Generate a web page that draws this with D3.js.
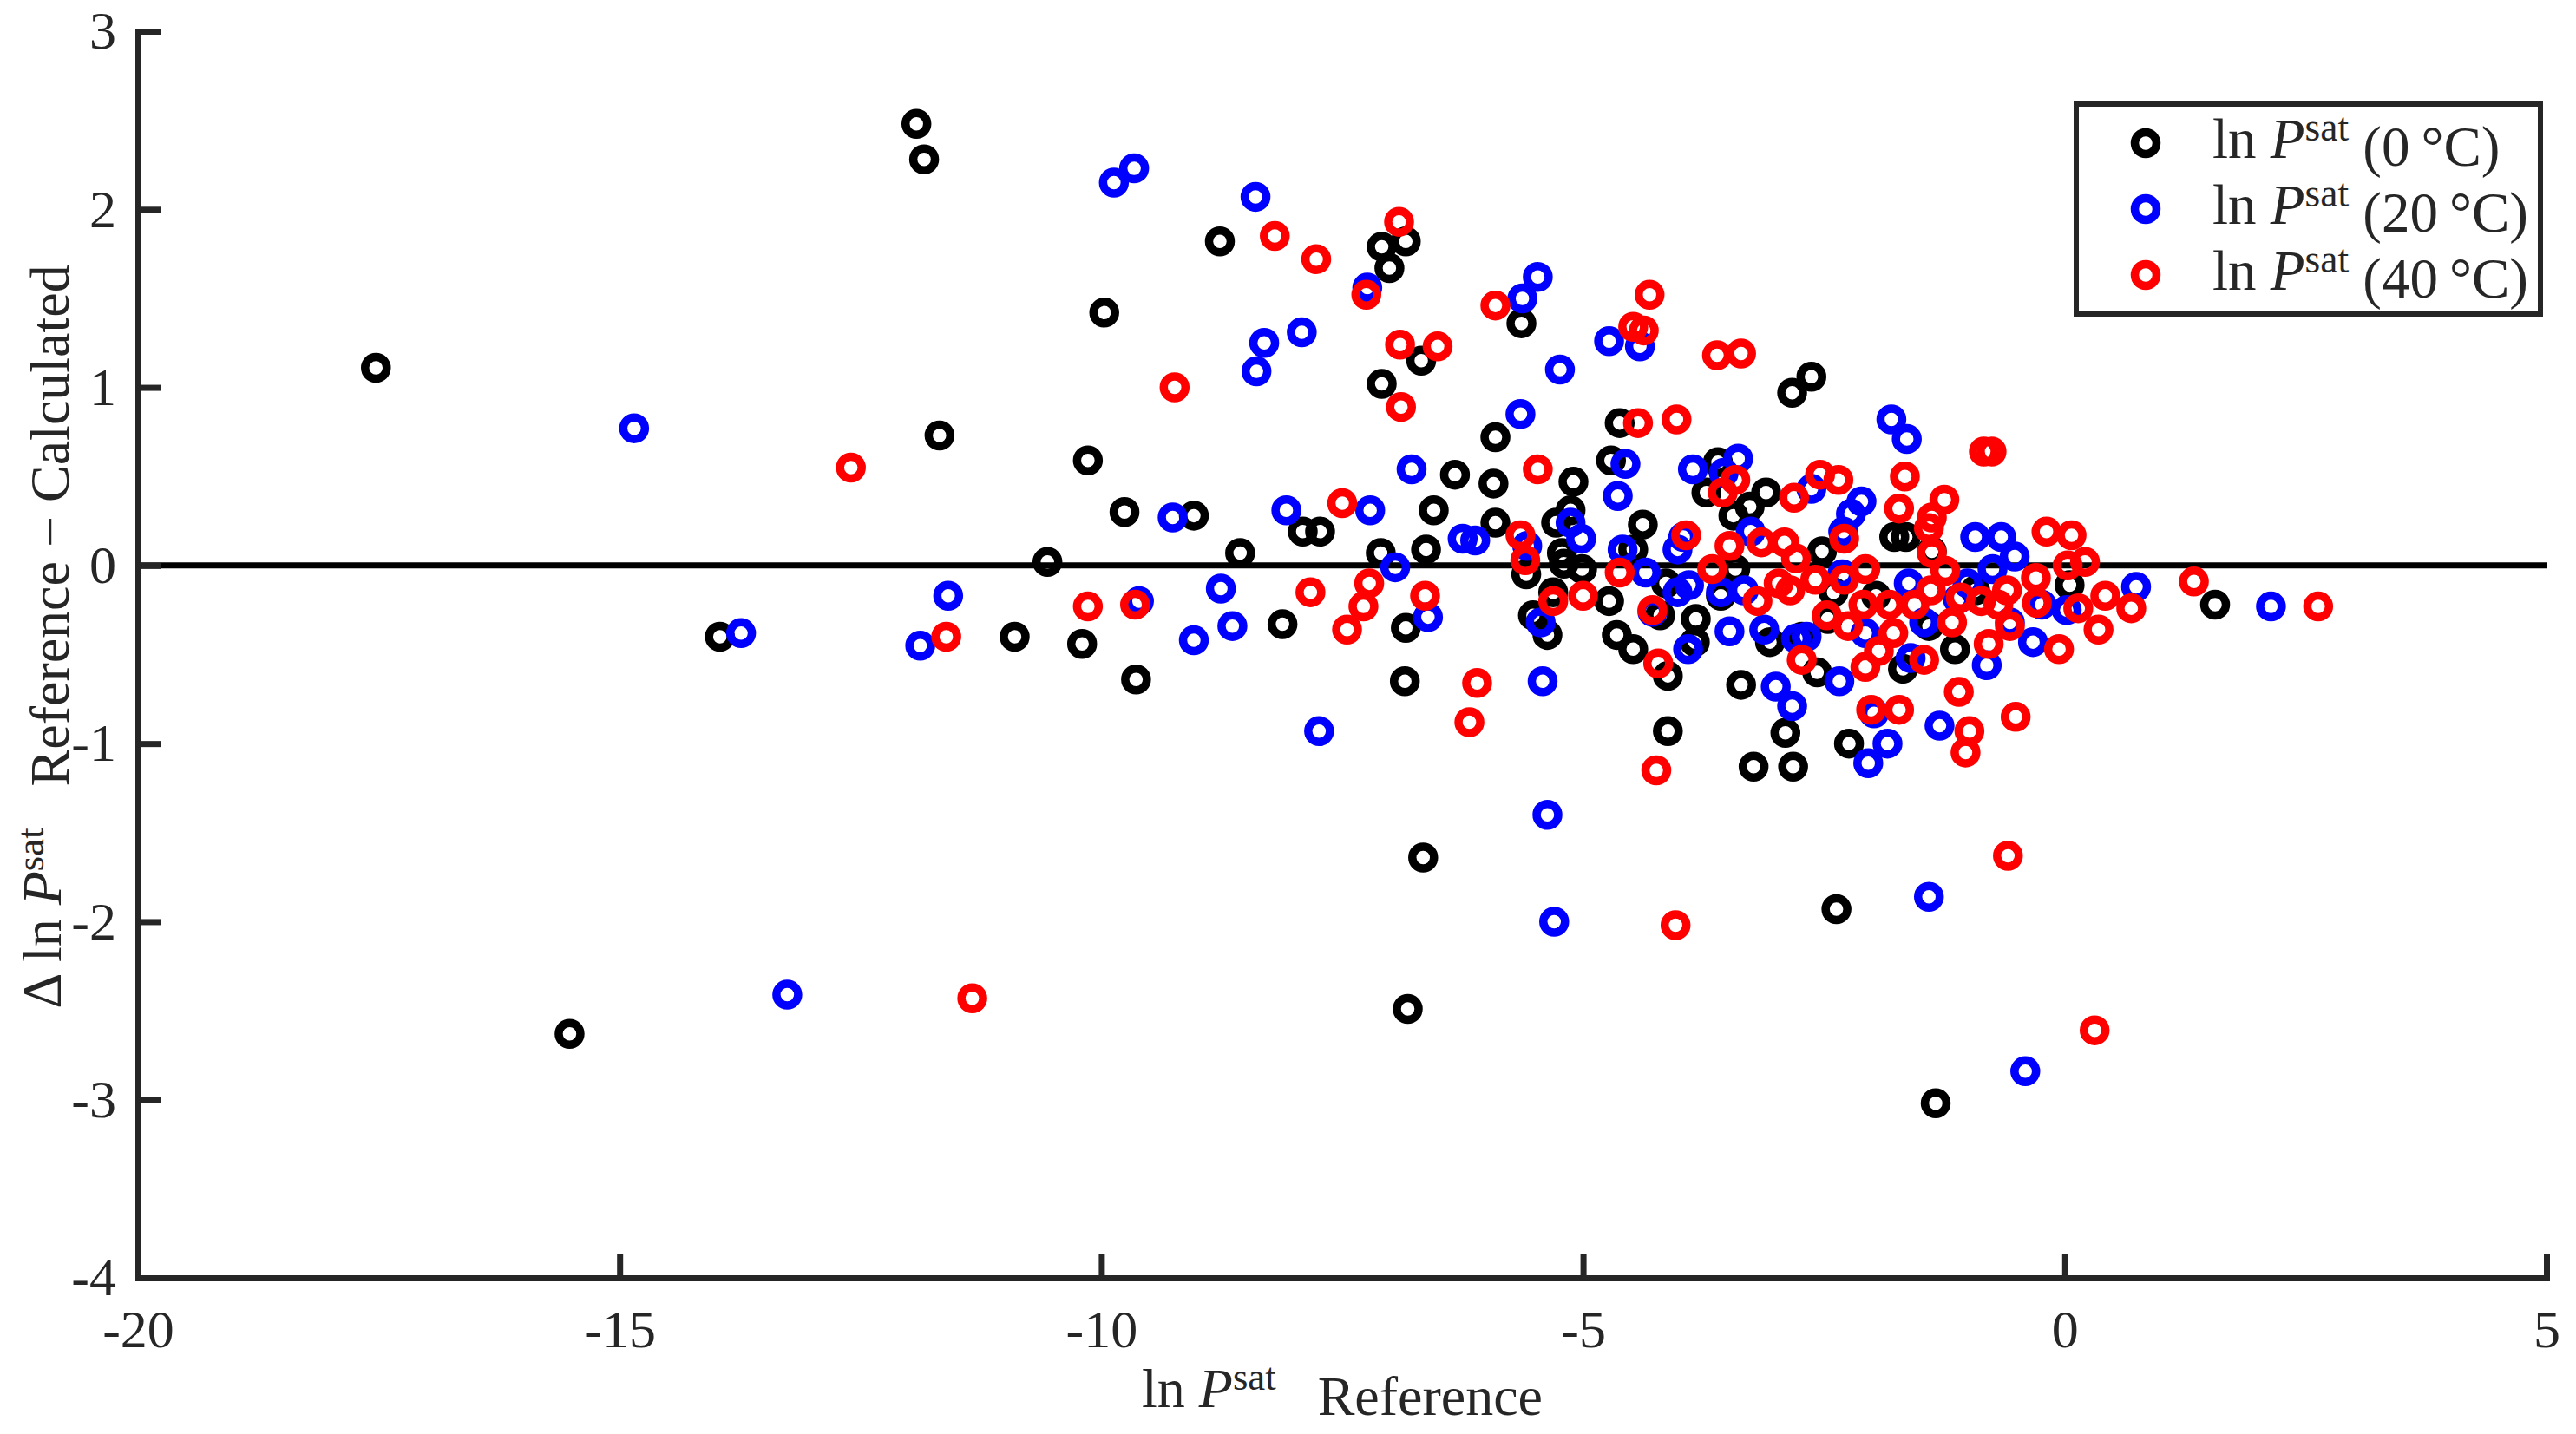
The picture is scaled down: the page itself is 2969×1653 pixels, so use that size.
<!DOCTYPE html>
<html lang="en">
<head>
<meta charset="utf-8">
<script src="https://d3js.org/d3.v7.min.js"></script>
<style>
  body { margin: 0; background: #fff; }
  text { font-family: "Liberation Serif", "DejaVu Serif", serif; fill: #262626; }
</style>
</head>
<body>
<script>
// [ln Psat reference, deviation] for each temperature
var pts0C = [
  [-17.53, 1.11], [-15.52, -2.63], [-13.96, -0.40], [-11.92, 2.48], [-11.84, 2.28],
  [-11.68, 0.73], [-10.90, -0.40], [-10.56, 0.02], [-10.20, -0.44], [-10.14, 0.59],
  [-9.97, 1.42], [-9.76, 0.30], [-9.64, -0.64], [-9.04, 0.28], [-8.77, 1.82],
  [-8.56, 0.07], [-8.12, -0.33], [-7.91, 0.19], [-7.73, 0.19], [-7.10, 0.07],
  [-7.09, 1.02], [-7.09, 1.79], [-7.01, 1.67], [-6.84, 1.82], [-6.84, -0.35],
  [-6.85, -0.65], [-6.82, -2.49], [-6.68, 1.15], [-6.66, -1.64], [-6.63, 0.09],
  [-6.55, 0.31], [-6.33, 0.51], [-5.93, 0.46], [-5.91, 0.72], [-5.91, 0.24],
  [-5.64, 1.36], [-5.59, -0.05], [-5.52, -0.28], [-5.37, -0.39], [-5.31, -0.15],
  [-5.28, 0.24], [-5.22, 0.07], [-5.20, 0.01], [-5.13, 0.31], [-5.10, 0.47],
  [-5.01, -0.02], [-4.73, -0.20], [-4.71, 0.59], [-4.65, -0.39], [-4.62, 0.80],
  [-4.48, -0.47], [-4.48, 0.09], [-4.38, 0.23], [-4.20, -0.28], [-4.14, -0.10],
  [-4.12, -0.62], [-4.12, -0.93], [-3.84, -0.43], [-3.83, -0.30], [-3.72, 0.41],
  [-3.60, 0.58], [-3.57, -0.17], [-3.44, 0.28], [-3.42, -0.02], [-3.36, -0.67],
  [-3.27, 0.33], [-3.23, -1.13], [-3.10, 0.41], [-3.06, -0.43], [-2.90, -0.94],
  [-2.83, 0.97], [-2.82, -1.13], [-2.73, -0.40], [-2.63, 1.06], [-2.57, -0.60],
  [-2.52, 0.08], [-2.46, -0.30], [-2.40, -0.15], [-2.37, -1.93], [-2.24, -1.00],
  [-1.96, -0.17], [-1.77, 0.16], [-1.65, 0.16], [-1.68, -0.58], [-1.41, -0.34],
  [-1.38, 0.08], [-1.34, -3.02], [-1.14, -0.47], [-0.93, -0.14], [0.05, -0.11],
  [1.56, -0.22]
];
var pts20C = [
  [-14.85, 0.77], [-13.74, -0.38], [-13.26, -2.41], [-11.88, -0.45], [-11.59, -0.17],
  [-9.87, 2.15], [-9.66, 2.23], [-9.61, -0.20], [-9.26, 0.27], [-9.04, -0.42],
  [-8.76, -0.13], [-8.64, -0.34], [-8.40, 2.07], [-8.39, 1.09], [-8.31, 1.25],
  [-8.08, 0.31], [-7.92, 1.31], [-7.74, -0.93], [-7.24, 1.56], [-7.21, 0.31],
  [-6.95, -0.01], [-6.78, 0.54], [-6.61, -0.29], [-6.25, 0.15], [-6.12, 0.14],
  [-5.65, 0.85], [-5.63, 1.50], [-5.58, 0.11], [-5.47, 1.62], [-5.44, -0.32],
  [-5.42, -0.65], [-5.37, -1.40], [-5.30, -2.00], [-5.24, 1.10], [-5.13, 0.24],
  [-5.02, 0.15], [-4.73, 1.26], [-4.64, 0.39], [-4.59, 0.09], [-4.56, 0.57],
  [-4.41, 1.23], [-4.35, -0.04], [-4.28, -0.26], [-4.02, -0.15], [-4.02, 0.09],
  [-3.96, 0.16], [-3.91, -0.47], [-3.90, -0.11], [-3.86, 0.54], [-3.57, -0.15],
  [-3.54, 0.52], [-3.48, -0.37], [-3.39, 0.60], [-3.33, -0.14], [-3.26, 0.19],
  [-3.12, -0.36], [-3.00, -0.68], [-2.83, -0.79], [-2.79, -0.41], [-2.68, -0.40],
  [-2.63, 0.43], [-2.34, -0.65], [-2.31, -0.05], [-2.30, 0.19], [-2.22, 0.29],
  [-2.11, 0.36], [-2.07, -0.38], [-2.04, -1.11], [-1.98, -0.83], [-1.84, -1.00],
  [-1.80, 0.82], [-1.64, 0.71], [-1.62, -0.10], [-1.60, -0.52], [-1.46, -0.32],
  [-1.41, -1.86], [-1.30, -0.90], [-1.11, -0.19], [-1.01, -0.10], [-0.93, 0.16],
  [-0.81, -0.56], [-0.75, -0.02], [-0.66, 0.16], [-0.57, -0.32], [-0.52, 0.05],
  [-0.41, -2.84], [-0.33, -0.43], [-0.24, -0.22], [0.02, -0.25], [0.74, -0.12],
  [2.14, -0.23]
];
var pts40C = [
  [-12.60, 0.55], [-11.61, -0.40], [-11.34, -2.43], [-10.14, -0.23], [-9.65, -0.22],
  [-9.24, 1.00], [-8.20, 1.85], [-7.83, -0.15], [-7.77, 1.72], [-7.50, 0.35],
  [-7.45, -0.36], [-7.28, -0.23], [-7.25, 1.52], [-7.22, -0.10], [-6.91, 1.93],
  [-6.90, 1.24], [-6.89, 0.89], [-6.64, -0.17], [-6.51, 1.23], [-6.18, -0.88],
  [-6.10, -0.66], [-5.91, 1.46], [-5.65, 0.17], [-5.60, 0.03], [-5.47, 0.54],
  [-5.31, -0.20], [-5.00, -0.17], [-4.62, -0.04], [-4.48, 1.34], [-4.43, 0.80],
  [-4.37, 1.32], [-4.31, 1.52], [-4.28, -0.25], [-4.24, -1.15], [-4.22, -0.55],
  [-4.03, 0.82], [-4.04, -2.02], [-3.93, 0.17], [-3.66, -0.02], [-3.61, 1.18],
  [-3.55, 0.41], [-3.48, 0.11], [-3.42, 0.48], [-3.36, 1.19], [-3.19, -0.20],
  [-3.15, 0.13], [-2.97, -0.10], [-2.91, 0.13], [-2.85, -0.14], [-2.81, 0.38],
  [-2.79, 0.04], [-2.73, -0.53], [-2.59, -0.08], [-2.54, 0.51], [-2.47, -0.28],
  [-2.35, 0.48], [-2.29, 0.15], [-2.29, -0.08], [-2.25, -0.34], [-2.09, -0.22],
  [-2.07, -0.02], [-2.07, -0.57], [-2.01, -0.81], [-1.93, -0.48], [-1.82, -0.22],
  [-1.78, -0.38], [-1.72, -0.81], [-1.72, 0.32], [-1.66, 0.50], [-1.56, -0.22],
  [-1.46, -0.53], [-1.41, 0.21], [-1.39, -0.14], [-1.38, 0.27], [-1.38, 0.07],
  [-1.25, 0.37], [-1.24, -0.03], [-1.17, -0.32], [-1.10, -0.71], [-1.08, -0.18],
  [-1.03, -1.05], [-0.99, -0.93], [-0.87, -0.20], [-0.84, 0.64], [-0.79, -0.44],
  [-0.76, 0.64], [-0.69, -0.22], [-0.60, -0.14], [-0.59, -1.63], [-0.57, -0.34],
  [-0.51, -0.85], [-0.30, -0.07], [-0.29, -0.21], [-0.19, 0.19], [-0.06, -0.47],
  [0.03, 0.00], [0.07, 0.17], [0.14, -0.24], [0.21, 0.02], [0.31, -2.61],
  [0.35, -0.36], [0.42, -0.17], [0.69, -0.24], [1.34, -0.09], [2.63, -0.23]
];

var seriesNames = ["0", "20", "40"];
var seriesColors = ["#000000", "#0000ff", "#ff0000"];
var xTicks = [-20, -15, -10, -5, 0, 5];
var yTicks = [-4, -3, -2, -1, 0, 1, 2, 3];

var width = 2969, height = 1653;
var margin = {left: 159, right: 34, top: 36, bottom: 180};

var svg = d3.select("body").append("svg")
    .attr("width", width)
    .attr("height", height);

var x = d3.scaleLinear().domain([-20, 5]).range([margin.left, width - margin.right]);
var y = d3.scaleLinear().domain([-4, 3]).range([height - margin.bottom, margin.top]);

// zero reference line
svg.append("line")
    .attr("x1", x(-20)).attr("x2", x(5))
    .attr("y1", y(0)).attr("y2", y(0))
    .attr("stroke", "#000")
    .attr("stroke-width", 7);

// points, drawn black, blue, red
[pts0C, pts20C, pts40C].forEach(function(pts, i) {
    svg.append("g").selectAll("circle")
        .data(pts)
        .enter().append("circle")
        .attr("cx", function(d) { return x(d[0]); })
        .attr("cy", function(d) { return y(d[1]); })
        .attr("r", 12.5)
        .attr("fill", "none")
        .attr("stroke", seriesColors[i])
        .attr("stroke-width", 9.5);
});

// axes (plain hyphen for negatives, like the original)
var fmt = function(d) { return String(d); };
var xAxis = d3.axisBottom(x).tickValues(xTicks).tickFormat(fmt)
    .tickSizeInner(-27).tickSizeOuter(0).tickPadding(36);
var yAxis = d3.axisLeft(y).tickValues(yTicks).tickFormat(fmt)
    .tickSizeInner(-27).tickSizeOuter(0).tickPadding(25);

var gx = svg.append("g").attr("transform", "translate(0," + y(-4) + ")").call(xAxis);
var gy = svg.append("g").attr("transform", "translate(" + x(-20) + ",0)").call(yAxis);

[gx, gy].forEach(function(g) {
    g.select(".domain").attr("stroke", "#262626").attr("stroke-width", 7).attr("stroke-linecap", "square");
    g.selectAll(".tick line").attr("stroke", "#262626").attr("stroke-width", 7);
    g.selectAll(".tick text")
        .attr("font-family", "Liberation Serif")
        .attr("font-size", 62)
        .attr("fill", "#262626");
});

// helper: "ln P^sat" followed by a tail
function lnPsat(text, tail) {
    text.append("tspan").text("ln ");
    text.append("tspan").attr("font-style", "italic").text("P");
    text.append("tspan").attr("font-size", "70%").attr("dy", "-0.45em").text("sat");
    text.append("tspan").attr("dy", "0.45em").text(tail);
}

// x label
var xl = svg.append("text")
    .attr("x", (x(-20) + x(5)) / 2)
    .attr("y", 1622)
    .attr("text-anchor", "middle")
    .attr("font-size", 64);
lnPsat(xl, "\u2002 Reference");

// y label
var yl = svg.append("text")
    .attr("transform", "translate(70,734) rotate(-90)")
    .attr("text-anchor", "middle")
    .attr("font-size", 64);
yl.append("tspan").text("\u0394 ");
lnPsat(yl, "\u2002 Reference \u2212 Calculated");

// legend
var legend = svg.append("g");
legend.append("rect")
    .attr("x", 2393).attr("y", 120)
    .attr("width", 535).attr("height", 242)
    .attr("fill", "#fff")
    .attr("stroke", "#262626")
    .attr("stroke-width", 6);

seriesNames.forEach(function(name, i) {
    var cy = 165 + i * 76;
    legend.append("circle")
        .attr("cx", 2473).attr("cy", cy)
        .attr("r", 12.5)
        .attr("fill", "none")
        .attr("stroke", seriesColors[i])
        .attr("stroke-width", 9.5);
    var t = legend.append("text")
        .attr("x", 2550).attr("y", cy + 17)
        .attr("font-size", 65)
        .attr("fill", "#000");
    lnPsat(t, " (" + name + "\u2009\u00b0C)");
});
</script>
</body>
</html>
